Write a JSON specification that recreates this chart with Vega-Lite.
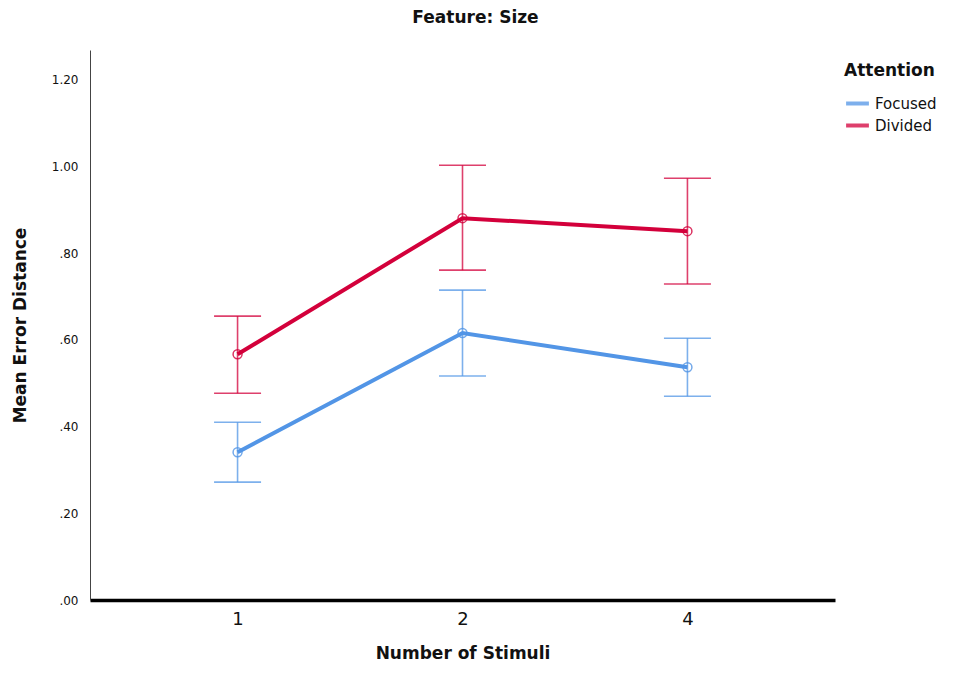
{
  "$schema": "https://vega.github.io/schema/vega-lite/v6.json",
  "width": 745,
  "height": 550,
  "autosize": {"type": "none"},
  "padding": {"left": 90, "top": 50, "right": 118, "bottom": 75},
  "title": {"text": "Feature: Size", "font": "DejaVu Sans", "fontSize": 17, "fontWeight": "bold", "color": "#111", "anchor": "middle", "dx": 13, "offset": 23},
  "data": {"values": [
    {"stimuli": "1", "attention": "Focused", "mean": 0.341, "lo": 0.272, "hi": 0.410},
    {"stimuli": "2", "attention": "Focused", "mean": 0.616, "lo": 0.517, "hi": 0.715},
    {"stimuli": "4", "attention": "Focused", "mean": 0.537, "lo": 0.470, "hi": 0.604},
    {"stimuli": "1", "attention": "Divided", "mean": 0.567, "lo": 0.477, "hi": 0.655},
    {"stimuli": "2", "attention": "Divided", "mean": 0.881, "lo": 0.761, "hi": 1.003},
    {"stimuli": "4", "attention": "Divided", "mean": 0.851, "lo": 0.729, "hi": 0.973}
  ]},
  "encoding": {
    "x": {"field": "stimuli", "type": "ordinal", "sort": ["1", "2", "4"],
      "scale": {"type": "point", "padding": 0.656},
      "axis": {"title": "Number of Stimuli", "labelAngle": 0, "ticks": false, "domainColor": "#000", "domainWidth": 3.5, "labelFontSize": 18, "labelFont": "DejaVu Sans", "labelColor": "#111", "labelPadding": 10, "titleFont": "DejaVu Sans", "titleFontSize": 17, "titleFontWeight": "bold", "titleColor": "#111", "titlePadding": 17, "grid": false}},
    "color": {"field": "attention", "type": "nominal",
      "scale": {"domain": ["Focused", "Divided"], "range": ["#5295e6", "#d3003b"]},
      "legend": {"title": "Attention", "orient": "none", "legendX": 754, "legendY": 13, "symbolType": "stroke", "symbolStrokeWidth": 4, "symbolSize": 520, "titleFont": "DejaVu Sans", "titleFontSize": 17, "titleFontWeight": "bold", "titleColor": "#111", "labelFont": "DejaVu Sans", "labelFontSize": 15, "labelColor": "#111", "titlePadding": 10, "rowPadding": 0, "labelOffset": 4}}
  },
  "layer": [
    {"mark": {"type": "rule", "strokeWidth": 1.6, "opacity": 0.75},
     "encoding": {
       "y": {"field": "lo", "type": "quantitative",
         "scale": {"domain": [0, 1.269], "nice": false, "zero": true},
         "axis": {"title": "Mean Error Distance", "values": [0, 0.2, 0.4, 0.6, 0.8, 1.0, 1.2],
           "labelExpr": "datum.value < 1 ? substring(format(datum.value, '.2f'), 1) : format(datum.value, '.2f')",
           "ticks": false, "grid": false, "domainColor": "#444", "domainWidth": 1, "labelFont": "DejaVu Sans", "labelFontSize": 12, "labelColor": "#111", "labelPadding": 12,
           "titleFont": "DejaVu Sans", "titleFontSize": 17, "titleFontWeight": "bold", "titleColor": "#111", "titlePadding": 22}},
       "y2": {"field": "hi"}
     }},
    {"mark": {"type": "tick", "size": 47, "thickness": 1.6, "opacity": 0.75},
     "encoding": {"y": {"field": "lo", "type": "quantitative"}}},
    {"mark": {"type": "tick", "size": 47, "thickness": 1.6, "opacity": 0.75},
     "encoding": {"y": {"field": "hi", "type": "quantitative"}}},
    {"mark": {"type": "line", "strokeWidth": 4},
     "encoding": {"y": {"field": "mean", "type": "quantitative"}}},
    {"mark": {"type": "point", "filled": false, "size": 80, "strokeWidth": 1.5, "opacity": 0.8},
     "encoding": {"y": {"field": "mean", "type": "quantitative"}}}
  ],
  "config": {"view": {"stroke": null}}
}
